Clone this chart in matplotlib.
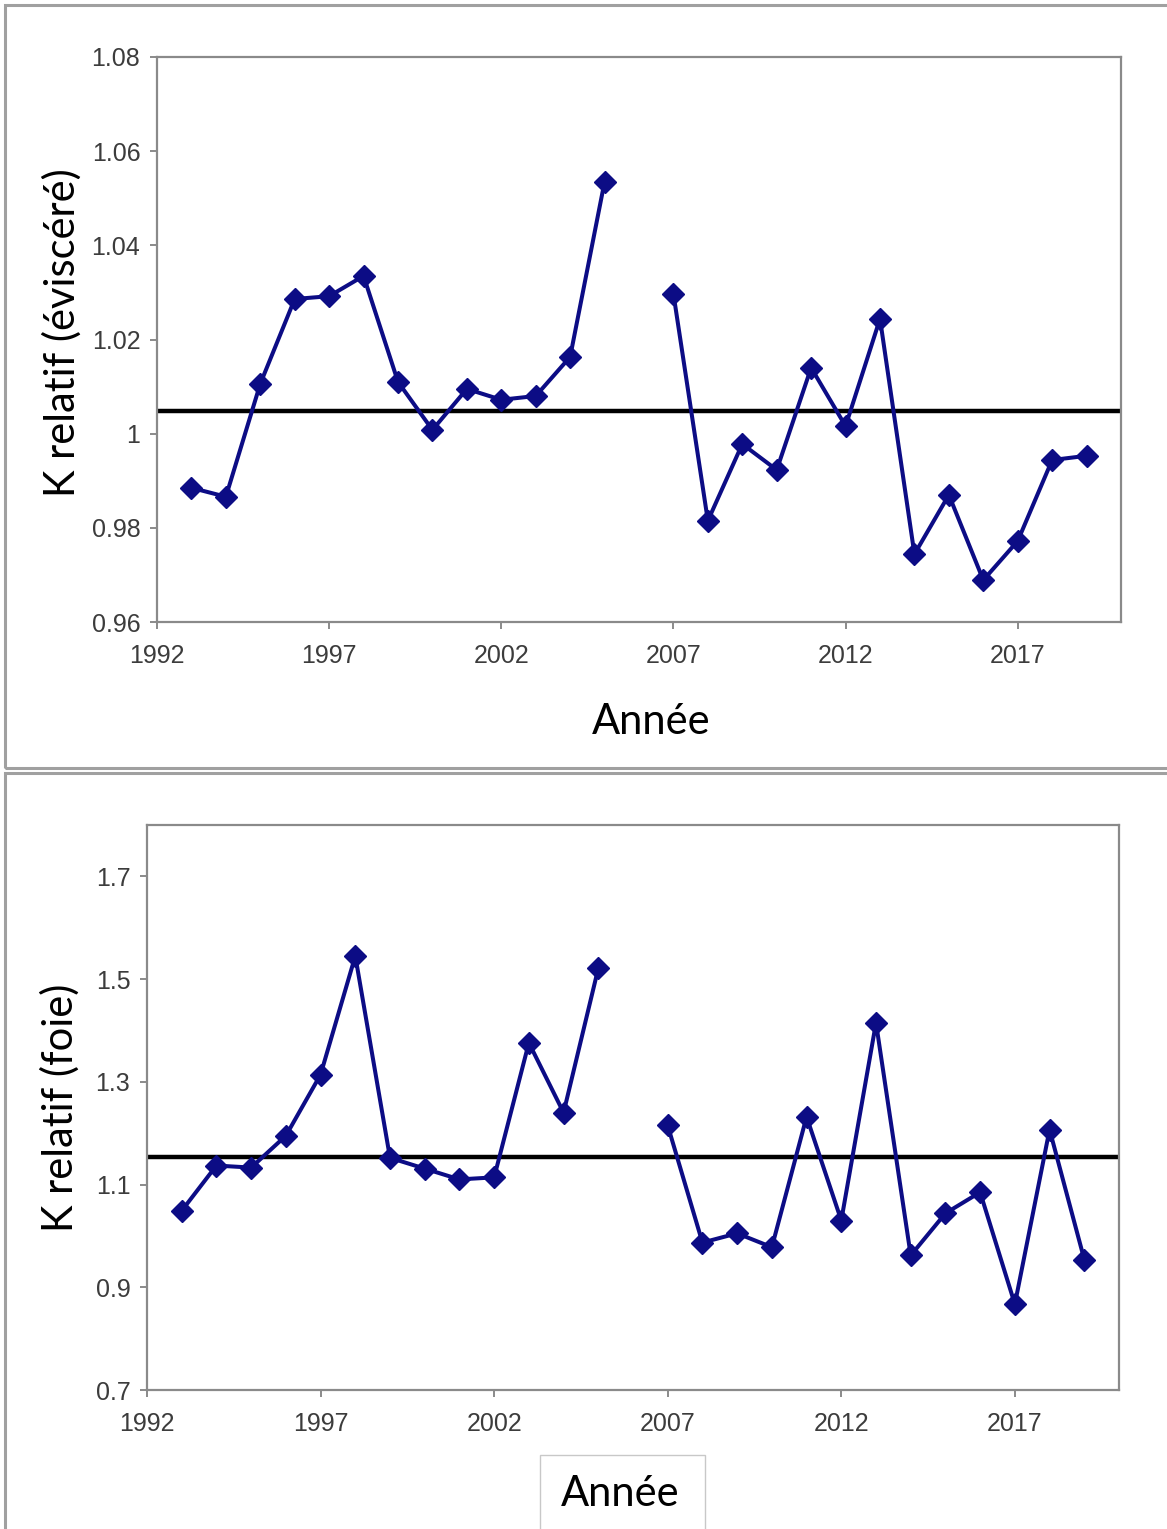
import numpy as np
import matplotlib
matplotlib.use("Agg")
import matplotlib.pyplot as plt
from matplotlib.patches import Rectangle

# Years sampled (2006 has no data)
years = np.arange(1993, 2020)

# Relative condition factor, gutted weight
k_evis = [0.9885, 0.9866, 1.0106, 1.0286, 1.0292, 1.0335, 1.0110, 1.0008,
          1.0095, 1.0072, 1.0080, 1.0163, 1.0535, np.nan, 1.0297, 0.9815,
          0.9978, 0.9923, 1.0140, 1.0016, 1.0244, 0.9744, 0.9870, 0.9689,
          0.9772, 0.9944, 0.9953]
k_evis_mean = 1.0048

# Relative condition factor, liver
k_foie = [1.049, 1.137, 1.133, 1.195, 1.314, 1.545, 1.152, 1.131,
          1.110, 1.114, 1.376, 1.240, 1.521, np.nan, 1.215, 0.987,
          1.005, 0.978, 1.232, 1.030, 1.415, 0.962, 1.044, 1.085,
          0.867, 1.207, 0.954]
k_foie_mean = 1.154

xticks = [1992, 1997, 2002, 2007, 2012, 2017]
yticks_evis = [0.96, 0.98, 1.0, 1.02, 1.04, 1.06, 1.08]
ylabels_evis = ["0.96", "0.98", "1", "1.02", "1.04", "1.06", "1.08"]
yticks_foie = [0.7, 0.9, 1.1, 1.3, 1.5, 1.7]
ylabels_foie = ["0.7", "0.9", "1.1", "1.3", "1.5", "1.7"]

W, H = 1167, 1529
fig = plt.figure(figsize=(W / 100, H / 100), dpi=100)
fig.patch.set_facecolor("white")

label_font = ["Lato", "DejaVu Sans"]
navy = "#0c0c85"
grey = "#8a8a8a"


def px_box(x0, y0, x1, y1):
    # pixel box (top-left origin) -> figure fraction [l, b, w, h]
    return [x0 / W, 1 - y1 / H, (x1 - x0) / W, (y1 - y0) / H]


def panel(ax, values, mean, ylim, yticks, ylabels):
    ax.plot(years, values, color=navy, lw=2.9, marker="D", ms=11,
            mfc=navy, mec=navy, zorder=3)
    ax.axhline(mean, color="black", lw=3.2, zorder=2)
    ax.set_xlim(1992, 2020)
    ax.set_ylim(*ylim)
    ax.set_xticks(xticks)
    ax.set_yticks(yticks)
    ax.set_yticklabels(ylabels)
    for s in ax.spines.values():
        s.set_color(grey)
        s.set_linewidth(1.6)
    ax.tick_params(direction="out", length=5, width=1.4, color=grey,
                   labelsize=18, labelcolor="#3c3c3c", pad=7)
    ax.tick_params(axis="x", pad=11)
    for t in ax.get_xticklabels() + ax.get_yticklabels():
        t.set_family(["Liberation Sans Narrow", "Liberation Sans", "DejaVu Sans"])


ax1 = fig.add_axes(px_box(157, 57, 1121, 622))
panel(ax1, k_evis, k_evis_mean, (0.96, 1.08), yticks_evis, ylabels_evis)

ax2 = fig.add_axes(px_box(147, 825, 1119, 1390))
panel(ax2, k_foie, k_foie_mean, (0.7, 1.8), yticks_foie, ylabels_foie)

# panel frames
for (x0, y0, x1, y1) in [(5, 5, 1180, 768), (5, 773, 1180, 1540)]:
    l, b, w, h = px_box(x0, y0, x1, y1)
    fig.patches.append(Rectangle((l, b), w, h, transform=fig.transFigure,
                                 fill=False, ec="#a0a0a0", lw=2.2, zorder=0))
# box around the lower axis title
l, b, w, h = px_box(540, 1455, 705, 1540)
fig.patches.append(Rectangle((l, b), w, h, transform=fig.transFigure,
                             fill=False, ec="#c8c8c8", lw=1.0, zorder=0))

fig.text(62 / W, 1 - 333 / H, "K relatif (éviscéré)", rotation=90,
         ha="center", va="center", fontsize=30, family=label_font)
fig.text(60 / W, 1 - 1108 / H, "K relatif (foie)", rotation=90,
         ha="center", va="center", fontsize=30, family=label_font)
fig.text(651 / W, 1 - 722 / H, "Année", ha="center", va="center",
         fontsize=30, family=label_font)
fig.text(620 / W, 1 - 1494 / H, "Année", ha="center", va="center",
         fontsize=30, family=label_font)

fig.savefig("out.png", dpi=100)
